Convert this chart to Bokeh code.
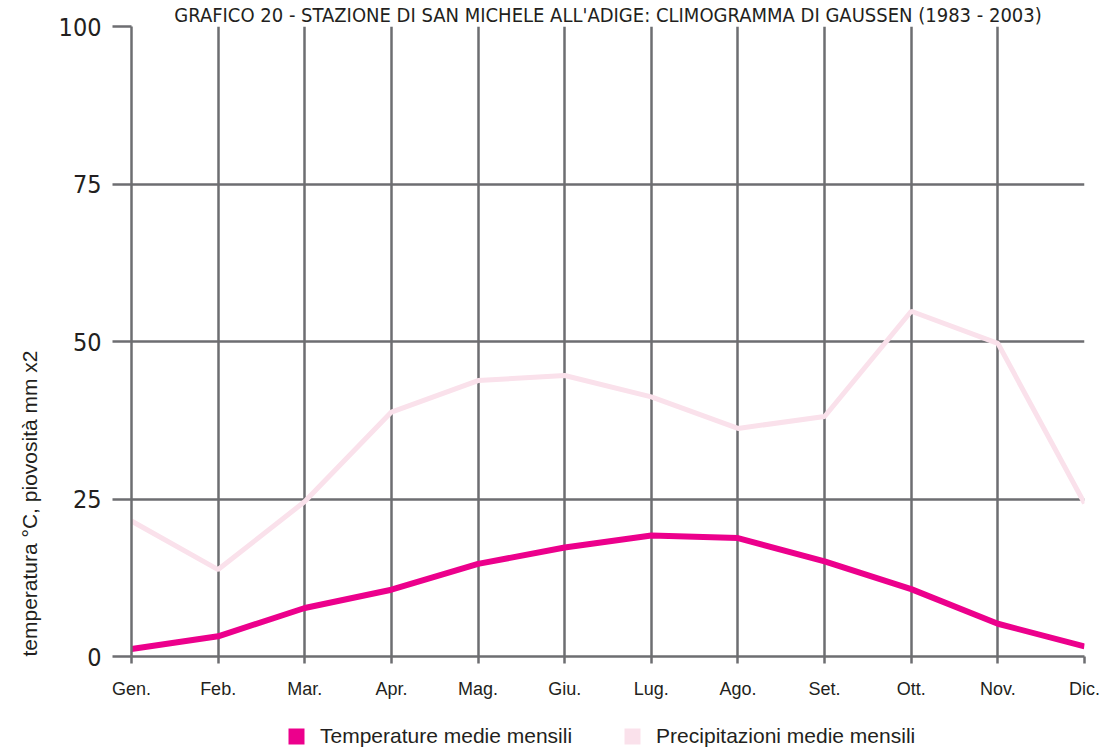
from bokeh.plotting import figure
from bokeh.layouts import column
from bokeh.models import FixedTicker, Legend, LegendItem, Range1d, ColumnDataSource, Title
from bokeh.embed import file_html
from bokeh.resources import INLINE

months = ["Gen.", "Feb.", "Mar.", "Apr.", "Mag.", "Giu.", "Lug.", "Ago.", "Set.", "Ott.", "Nov.", "Dic."]
temperature = [1.2, 3.2, 7.7, 10.6, 14.7, 17.3, 19.2, 18.8, 15.1, 10.7, 5.2, 1.6]
precipitation = [21.5, 13.8, 24.6, 38.8, 43.8, 44.6, 41.2, 36.2, 38.1, 54.8, 49.7, 24.3]
y_ticks = [0, 25, 50, 75, 100]

title_text = "GRAFICO 20 - STAZIONE DI SAN MICHELE ALL'ADIGE: CLIMOGRAMMA DI GAUSSEN (1983 - 2003)"
y_label_text = "temperatura °C, piovosità mm x2"
legend_labels = ["Temperature medie mensili", "Precipitazioni medie mensili"]

TEMP_COLOR = "#EC008C"
PREC_COLOR = "#FAE1EB"
GRID = "#6D6E71"
TEXT = "#231F20"

idx = list(range(len(months)))
src = ColumnDataSource(dict(x=idx, t=temperature, p=precipitation))

p = figure(width=1100, height=702, output_backend="svg", toolbar_location=None,
           x_range=Range1d(0, len(months) - 1), y_range=Range1d(0, 100),
           min_border_left=131, min_border_right=16, min_border_top=0, min_border_bottom=46)
p.outline_line_color = None
p.background_fill_color = "white"

# title
p.title.text = title_text
p.title.align = "center"
p.title.text_font = "DejaVu Sans Condensed"
p.title.text_font_size = "20px"
p.title.text_font_style = "normal"
p.title.text_color = TEXT
p.title.standoff = 0

# axes
p.xaxis.ticker = FixedTicker(ticks=idx)
p.xaxis.major_label_overrides = {i: m for i, m in enumerate(months)}
p.yaxis.ticker = FixedTicker(ticks=y_ticks)
for ax in (p.xaxis[0], p.yaxis[0]):
    ax.axis_line_color = GRID
    ax.axis_line_width = 2.5
    ax.major_tick_line_color = GRID
    ax.major_tick_line_width = 2.5
    ax.major_tick_in = 0
    ax.minor_tick_line_color = None
    ax.major_label_text_color = TEXT
p.xaxis.major_tick_out = 7
p.xaxis.major_label_standoff = 15
p.xaxis.major_label_text_font = "Liberation Sans"
p.xaxis.major_label_text_font_size = "18px"
p.yaxis.major_tick_out = 19
p.yaxis.major_label_standoff = 11
p.yaxis.major_label_text_font = "DejaVu Sans Condensed"
p.yaxis.major_label_text_font_size = "25px"

# grid
p.xgrid.ticker = FixedTicker(ticks=idx)
p.ygrid.ticker = FixedTicker(ticks=y_ticks)
for g in (p.xgrid[0], p.ygrid[0]):
    g.grid_line_color = GRID
    g.grid_line_width = 2.5
    g.grid_line_alpha = 1.0

# lines
r_p = p.line("x", "p", source=src, line_color=PREC_COLOR, line_width=5)
r_t = p.line("x", "t", source=src, line_color=TEMP_COLOR, line_width=6)

# rotated y-axis label, placed at the bottom of the left side
p.add_layout(Title(text=y_label_text, align="left", text_font="Liberation Sans",
                   text_font_size="21px", text_font_style="normal", text_color=TEXT,
                   standoff=29), "left")

# legend in its own strip below the chart (its frame is aligned with the chart's)
lg = figure(width=1100, height=46, output_backend="svg", toolbar_location=None,
            x_range=Range1d(0, 1), y_range=Range1d(0, 1),
            min_border=0, min_border_left=0, min_border_right=0, min_border_top=0, min_border_bottom=0)
lg.axis.visible = False
lg.grid.visible = False
lg.outline_line_color = None
swatch = ColumnDataSource(dict(l=[-3], r=[-2], b=[-3], t=[-2]))
s_t = lg.quad(left="l", right="r", bottom="b", top="t", source=swatch, fill_color=TEMP_COLOR, line_color=None)
s_p = lg.quad(left="l", right="r", bottom="b", top="t", source=swatch, fill_color=PREC_COLOR, line_color=None)
legend = Legend(items=[LegendItem(label=legend_labels[0], renderers=[s_t]),
                       LegendItem(label=legend_labels[1], renderers=[s_p])],
                orientation="horizontal", location=(155, 0),
                glyph_width=20, glyph_height=20, label_standoff=14, spacing=50,
                padding=0, margin=0, border_line_color=None, background_fill_alpha=0,
                label_text_font="Liberation Sans", label_text_font_size="21px",
                label_text_color=TEXT)
lg.add_layout(legend)

open("out.html", "w").write(file_html(column(p, lg, spacing=0), INLINE))
